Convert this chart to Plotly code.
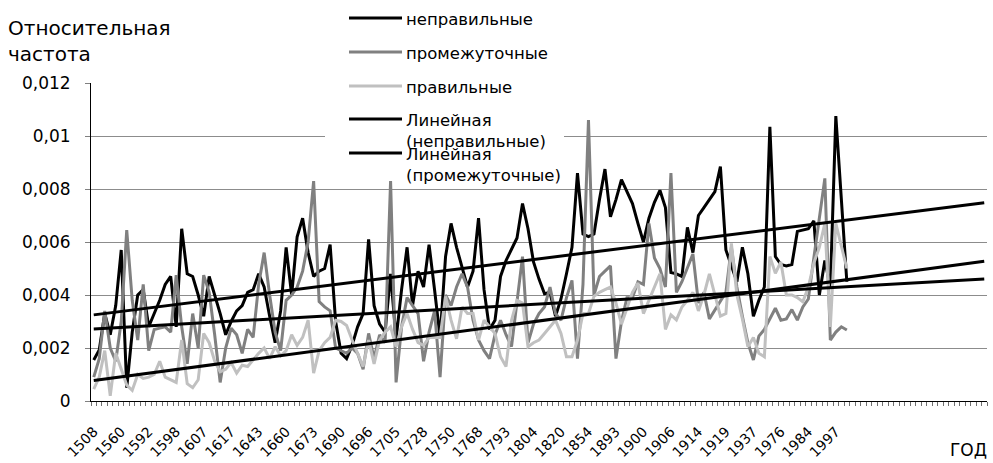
import plotly.graph_objects as go

# ---------------- data ----------------
tick_labels = ["1508", "1560", "1592", "1598", "1607", "1617", "1643", "1660",
               "1673", "1690", "1696", "1705", "1728", "1750", "1768", "1793",
               "1804", "1820", "1854", "1893", "1900", "1906", "1914", "1919",
               "1937", "1976", "1984", "1997"]
label_step = 5          # one year label every 5 categories
forecast_periods = 25   # trend lines are extended forward

neprav = [1.55e-3, 1.93e-3, 3.3e-3, 2.5e-3, 3.6e-3, 5.7e-3, 0.5e-3, 2.6e-3, 4.0e-3, 4.2e-3,
          2.8e-3, 3.3e-3, 3.8e-3, 4.4e-3, 4.7e-3, 2.8e-3, 6.5e-3, 4.8e-3, 4.7e-3, 4.0e-3,
          3.2e-3, 4.7e-3, 4.0e-3, 3.3e-3, 2.5e-3, 3.0e-3, 3.4e-3, 3.6e-3, 4.1e-3, 4.2e-3,
          4.8e-3, 4.3e-3, 3.2e-3, 2.2e-3, 3.4e-3, 5.8e-3, 4.0e-3, 6.2e-3, 6.9e-3, 5.6e-3,
          4.7e-3, 4.9e-3, 5.0e-3, 5.9e-3, 3.0e-3, 1.8e-3, 1.6e-3, 2.1e-3, 2.8e-3, 3.3e-3,
          6.1e-3, 3.6e-3, 2.9e-3, 2.6e-3, 4.8e-3, 2.35e-3, 4.2e-3, 5.8e-3, 3.6e-3, 4.9e-3,
          4.3e-3, 5.9e-3, 4.2e-3, 2.4e-3, 5.45e-3, 6.7e-3, 5.8e-3, 5.0e-3, 4.3e-3, 4.9e-3,
          6.9e-3, 4.2e-3, 2.7e-3, 3.05e-3, 4.7e-3, 5.3e-3, 5.7e-3, 6.15e-3, 7.45e-3, 6.5e-3,
          5.25e-3, 4.6e-3, 4.05e-3, 4.1e-3, 3.2e-3, 3.85e-3, 4.8e-3, 5.8e-3, 8.6e-3, 6.3e-3,
          6.2e-3, 6.3e-3, 7.6e-3, 8.75e-3, 6.95e-3, 7.6e-3, 8.35e-3, 7.9e-3, 7.45e-3, 6.7e-3,
          6.0e-3, 6.9e-3, 7.5e-3, 7.95e-3, 7.3e-3, 4.85e-3, 4.8e-3, 4.7e-3, 6.55e-3, 5.6e-3,
          7.0e-3, 7.3e-3, 7.6e-3, 7.9e-3, 8.85e-3, 5.7e-3, 5.1e-3, 4.5e-3, 5.8e-3, 4.8e-3,
          3.2e-3, 3.8e-3, 4.3e-3, 10.35e-3, 5.45e-3, 5.15e-3, 5.1e-3, 5.15e-3, 6.4e-3, 6.45e-3,
          6.5e-3, 6.8e-3, 4.0e-3, 5.3e-3, 4.3e-3, 10.75e-3, 7.6e-3, 4.5e-3]

promezh = [0.9e-3, 1.6e-3, 3.4e-3, 2.0e-3, 1.5e-3, 3.0e-3, 6.45e-3, 3.8e-3, 2.3e-3, 4.4e-3,
           1.9e-3, 2.7e-3, 2.75e-3, 2.8e-3, 2.6e-3, 4.75e-3, 2.8e-3, 1.4e-3, 3.3e-3, 2.0e-3,
           4.75e-3, 4.1e-3, 2.5e-3, 0.7e-3, 2.0e-3, 2.75e-3, 2.5e-3, 1.8e-3, 2.7e-3, 2.4e-3,
           4.4e-3, 5.6e-3, 4.0e-3, 2.6e-3, 1.9e-3, 3.8e-3, 4.0e-3, 4.3e-3, 4.9e-3, 6.0e-3,
           8.3e-3, 3.75e-3, 3.55e-3, 3.4e-3, 2.0e-3, 1.9e-3, 1.8e-3, 2.0e-3, 1.8e-3, 1.2e-3,
           2.55e-3, 1.6e-3, 2.5e-3, 2.2e-3, 8.3e-3, 0.7e-3, 2.8e-3, 3.9e-3, 3.6e-3, 3.3e-3,
           1.5e-3, 2.6e-3, 3.4e-3, 0.9e-3, 4.0e-3, 3.6e-3, 4.3e-3, 4.8e-3, 4.3e-3, 3.05e-3,
           2.3e-3, 1.9e-3, 1.6e-3, 2.5e-3, 3.05e-3, 2.5e-3, 2.05e-3, 3.8e-3, 5.45e-3, 2.2e-3,
           2.9e-3, 3.3e-3, 3.55e-3, 4.3e-3, 3.3e-3, 3.05e-3, 3.9e-3, 4.55e-3, 1.6e-3, 4.4e-3,
           10.6e-3, 4.0e-3, 4.7e-3, 4.9e-3, 5.1e-3, 1.6e-3, 3.0e-3, 3.9e-3, 3.9e-3, 4.5e-3,
           4.4e-3, 6.7e-3, 5.4e-3, 5.0e-3, 4.3e-3, 8.6e-3, 4.1e-3, 4.5e-3, 5.0e-3, 5.55e-3,
           3.7e-3, 4.1e-3, 3.1e-3, 3.45e-3, 3.8e-3, 4.1e-3, 5.8e-3, 4.3e-3, 3.2e-3, 2.2e-3,
           1.55e-3, 2.45e-3, 2.7e-3, 3.1e-3, 3.5e-3, 3.05e-3, 3.1e-3, 3.45e-3, 3.05e-3, 3.55e-3,
           3.85e-3, 5.4e-3, 7.0e-3, 8.4e-3, 2.3e-3, 2.6e-3, 2.8e-3, 2.68e-3]

prav = [0.45e-3, 0.9e-3, 1.9e-3, 0.2e-3, 1.8e-3, 1.2e-3, 0.6e-3, 0.4e-3, 1.0e-3, 0.85e-3,
        0.9e-3, 1.0e-3, 1.5e-3, 0.9e-3, 0.8e-3, 0.7e-3, 2.3e-3, 0.65e-3, 0.5e-3, 0.8e-3,
        2.55e-3, 2.2e-3, 1.5e-3, 1.1e-3, 1.2e-3, 1.45e-3, 1.05e-3, 1.35e-3, 1.3e-3, 1.55e-3,
        1.8e-3, 2.0e-3, 1.6e-3, 2.05e-3, 1.7e-3, 1.9e-3, 2.5e-3, 2.1e-3, 2.4e-3, 3.05e-3,
        1.05e-3, 1.9e-3, 2.2e-3, 2.4e-3, 3.05e-3, 3.0e-3, 2.85e-3, 2.3e-3, 1.8e-3, 1.3e-3,
        2.3e-3, 1.4e-3, 2.3e-3, 2.6e-3, 2.8e-3, 2.05e-3, 2.8e-3, 3.3e-3, 2.7e-3, 2.2e-3,
        2.1e-3, 2.4e-3, 2.4e-3, 2.4e-3, 3.95e-3, 3.05e-3, 2.35e-3, 3.55e-3, 3.3e-3, 3.3e-3,
        2.3e-3, 3.05e-3, 2.8e-3, 2.55e-3, 1.67e-3, 1.3e-3, 3.05e-3, 3.8e-3, 3.7e-3, 2.05e-3,
        2.2e-3, 2.3e-3, 2.55e-3, 2.8e-3, 3.05e-3, 2.55e-3, 1.67e-3, 1.67e-3, 2.3e-3, 3.3e-3,
        3.3e-3, 3.95e-3, 4.1e-3, 4.2e-3, 4.3e-3, 3.7e-3, 2.9e-3, 3.5e-3, 4.1e-3, 4.45e-3,
        3.3e-3, 3.8e-3, 4.3e-3, 4.8e-3, 2.7e-3, 3.25e-3, 3.06e-3, 3.55e-3, 3.8e-3, 4.1e-3,
        3.4e-3, 4.0e-3, 4.8e-3, 3.95e-3, 3.2e-3, 3.3e-3, 5.95e-3, 4.0e-3, 3.1e-3, 2.05e-3,
        2.4e-3, 1.8e-3, 1.67e-3, 5.45e-3, 4.82e-3, 5.25e-3, 4.0e-3, 4.0e-3, 3.9e-3, 3.74e-3,
        4.3e-3, 5.2e-3, 5.8e-3, 6.7e-3, 2.8e-3, 6.7e-3, 5.8e-3, 5.0e-3]

# linear trend lines (value at first category, value at last forecast category)
trend_neprav = [3.25e-3, 7.48e-3]
trend_promezh = [2.72e-3, 4.60e-3]
trend_prav = [0.77e-3, 5.27e-3]

y_tick_values = [0, 0.002, 0.004, 0.006, 0.008, 0.010, 0.012]
y_tick_labels = ["0", "0,002", "0,004", "0,006", "0,008", "0,01", "0,012"]

series_names = ["неправильные", "промежуточные", "правильные"]
trend_names = ["Линейная (неправильные)", "Линейная (промежуточные)", "Линейная (правильные)"]

# ---------------- layout constants ----------------
W, H = 993, 463
ML, MR, MT, MB = 91, 6, 83, 62
FONT = "DejaVu Sans"
C_BLACK, C_GRAY, C_LIGHT = "#000000", "#808080", "#c0c0c0"

n = len(neprav)
x_idx = list(range(n))
x_end = n - 1 + forecast_periods

def px_x(px):
    return (px - ML) / (W - ML - MR)

def px_y(py):
    return (H - MB - py) / (H - MT - MB)

fig = go.Figure()
for name, vals, col in zip(series_names, [neprav, promezh, prav], [C_BLACK, C_GRAY, C_LIGHT]):
    fig.add_trace(go.Scatter(x=x_idx, y=vals, mode="lines", name=name,
                             line=dict(color=col, width=3), showlegend=False))
for name, tr in zip(trend_names, [trend_neprav, trend_promezh, trend_prav]):
    fig.add_trace(go.Scatter(x=[0, x_end], y=tr, mode="lines", name=name,
                             line=dict(color=C_BLACK, width=3), showlegend=False))

tickvals = [i * label_step for i in range(len(tick_labels))]

fig.update_layout(
    width=W, height=H,
    margin=dict(l=ML, r=MR, t=MT, b=MB, pad=0, autoexpand=False),
    paper_bgcolor="white", plot_bgcolor="white",
    font=dict(family=FONT, color="black"),
    showlegend=False,
    xaxis=dict(range=[-0.5, x_end + 0.5], tickmode="array", tickvals=tickvals,
               ticktext=tick_labels, tickangle=-45, ticks="", showgrid=False,
               zeroline=False, showline=True, linecolor="black", linewidth=1,
               automargin=False,
               tickfont=dict(size=14, family=FONT), ticklabelstandoff=16,
               minor=dict(ticks="outside", ticklen=4, tickcolor="#707070",
                          tick0=-0.5, dtick=1, showgrid=False)),
    yaxis=dict(range=[0, 0.012], tickmode="array", tickvals=y_tick_values,
               ticktext=y_tick_labels, ticks="outside", ticklen=5, tickcolor="#808080",
               showgrid=True, gridcolor="#8c8c8c", gridwidth=1, zeroline=False,
               showline=True, linecolor="black", linewidth=1, automargin=False,
               tickfont=dict(size=17, family=FONT), ticklabelstandoff=11),
)

shapes = []
annotations = []
# white legend box
shapes.append(dict(type="rect", xref="paper", yref="paper", layer="above",
                   x0=px_x(325), x1=px_x(564), y0=px_y(178), y1=px_y(0),
                   fillcolor="white", line=dict(width=0)))
legend_items = [
    (C_BLACK, 18, "неправильные"),
    (C_GRAY, 52, "промежуточные"),
    (C_LIGHT, 86, "правильные"),
    (C_BLACK, 119, "Линейная<br>(неправильные)"),
    (C_BLACK, 153, "Линейная<br>(промежуточные)"),
]
for col, ypx, txt in legend_items:
    shapes.append(dict(type="line", xref="paper", yref="paper", layer="above",
                       x0=px_x(349), x1=px_x(402), y0=px_y(ypx), y1=px_y(ypx),
                       line=dict(color=col, width=3)))
    annotations.append(dict(xref="paper", yref="paper", x=px_x(404), y=px_y(ypx - 10),
                            xanchor="left", yanchor="top", align="left", showarrow=False,
                            text=txt, font=dict(size=16.5, family=FONT, color="black")))

# axis titles
annotations.append(dict(xref="paper", yref="paper", x=px_x(6), y=px_y(14), xanchor="left",
                        yanchor="top", align="left", showarrow=False,
                        text="Относительная<br>частота",
                        font=dict(size=20, family=FONT, color="black")))
annotations.append(dict(xref="paper", yref="paper", x=px_x(989), y=px_y(450), xanchor="right",
                        yanchor="middle", showarrow=False, text="ГОД",
                        font=dict(size=17, family=FONT, color="black")))

fig.update_layout(shapes=shapes, annotations=annotations)
fig.write_html("out.html", config={"displayModeBar": False},
               post_script="document.body.style.margin='0';")
